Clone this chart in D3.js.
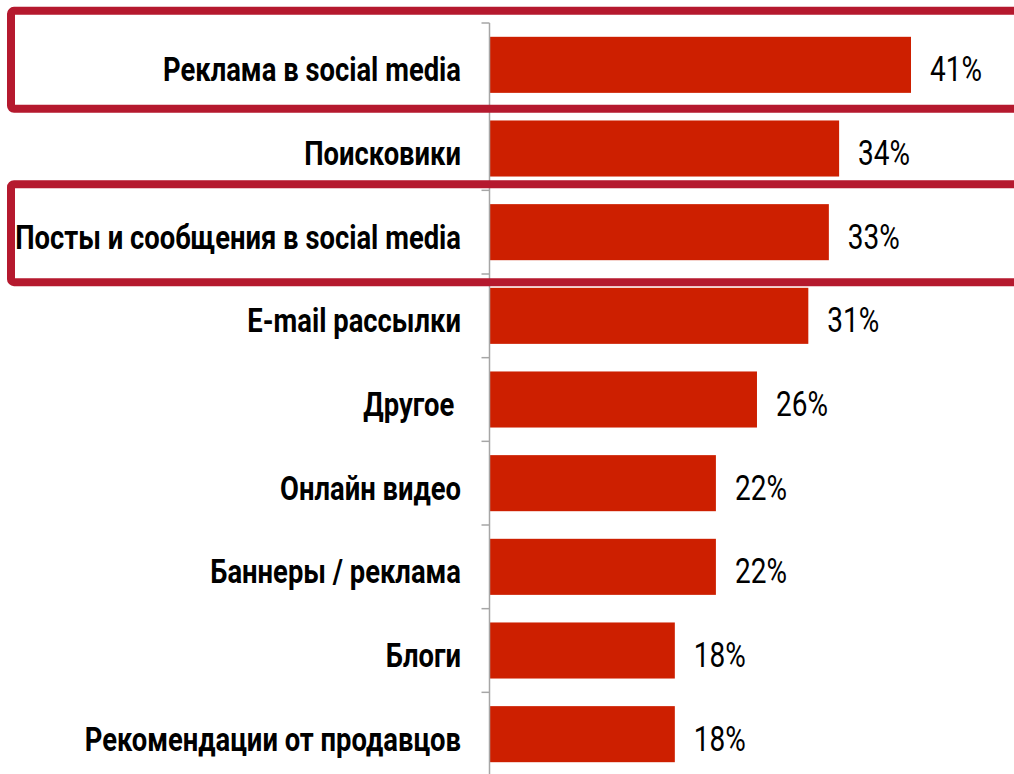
<!DOCTYPE html>
<html>
<head>
<meta charset="utf-8">
<script src="https://cdn.jsdelivr.net/npm/d3@7"></script>
<style>
  html, body { margin: 0; padding: 0; background: #fff; }
  svg { display: block; }
  .lbl { font-family: Roboto, "DejaVu Sans Condensed", sans-serif; white-space: pre; }
</style>
</head>
<body>
<svg id="chart" width="1014" height="774"></svg>
<script>
// Channels by share of respondents, %
const categories = [
  "Реклама в social media",
  "Поисковики",
  "Посты и сообщения в social media",
  "E-mail рассылки",
  "Другое ",
  "Онлайн видео",
  "Баннеры / реклама",
  "Блоги",
  "Рекомендации от продавцов"
];
const values = [41, 34, 33, 31, 26, 22, 22, 18, 18];
const highlighted = ["Реклама в social media", "Посты и сообщения в social media"];

const width = 1014, height = 774;
const svg = d3.select("#chart");

const x = d3.scaleLinear().domain([0, 41]).range([490, 911]);
const y = d3.scaleBand().domain(categories).range([23, 776]).paddingInner(0.33).paddingOuter(0.165);

const data = categories.map((c, i) => ({ c, v: values[i] }));

// bars
svg.append("g").selectAll("rect").data(data).join("rect")
  .attr("x", x(0))
  .attr("y", d => y(d.c))
  .attr("width", d => x(d.v) - x(0))
  .attr("height", y.bandwidth())
  .attr("fill", "#cd1f00");

// category axis with ticks on band boundaries
const axisX = 489.5;
const g = svg.append("g");
g.append("line")
  .attr("x1", axisX).attr("x2", axisX)
  .attr("y1", y.range()[0]).attr("y2", y.range()[1])
  .attr("stroke", "#a6a6a6").attr("stroke-width", 1.5);
const bounds = categories.map(c => y(c) - y.step() * y.paddingInner() / 2);
bounds[0] = y.range()[0];
g.selectAll("line.tick").data(bounds).join("line")
  .attr("class", "tick")
  .attr("x1", axisX - 8).attr("x2", axisX)
  .attr("y1", d => d).attr("y2", d => d)
  .attr("stroke", "#a6a6a6").attr("stroke-width", 1.5);

// condensed look: measure a reference string and squeeze horizontally
function squeeze(sample, weight, size, target) {
  const t = svg.append("text").attr("class", "lbl")
    .attr("font-size", size).attr("font-weight", weight).text(sample);
  const w = t.node().getComputedTextLength();
  t.remove();
  return target / w;
}
const catScale = squeeze("Посты и сообщения в social media", "bold", 32.5, 446);
const valScale = squeeze("41%", "normal", 36, 52);

const baseOffset = y.bandwidth() / 2 + 16.4;

// category labels
svg.append("g").selectAll("text").data(data).join("text")
  .attr("class", "lbl")
  .attr("transform", d => `translate(461,${y(d.c) + baseOffset}) scale(${catScale},1)`)
  .attr("text-anchor", "end")
  .attr("font-size", 32.5)
  .attr("font-weight", "bold")
  .attr("fill", "#000")
  .text(d => d.c);

// value labels
svg.append("g").selectAll("text").data(data).join("text")
  .attr("class", "lbl")
  .attr("transform", d => `translate(${x(d.v) + 19},${y(d.c) + baseOffset}) scale(${valScale},1)`)
  .attr("font-size", 36)
  .attr("fill", "#000")
  .text(d => d.v + "%");

// highlight frames around selected rows
svg.append("g").selectAll("rect").data(highlighted).join("rect")
  .attr("x", 11)
  .attr("y", (d, i) => y(d) + y.bandwidth() / 2 - 49 + (i === 0 ? -5 : 1))
  .attr("width", 1030)
  .attr("height", 98)
  .attr("rx", 3)
  .attr("fill", "none")
  .attr("stroke", "#b5192e")
  .attr("stroke-width", 8);
</script>
</body>
</html>
